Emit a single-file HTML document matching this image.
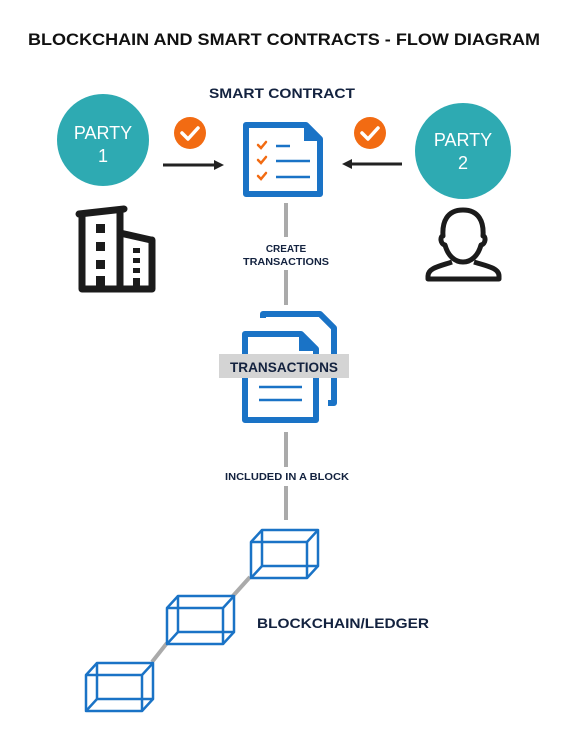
<!DOCTYPE html>
<html><head><meta charset="utf-8"><style>
html,body{margin:0;padding:0;background:#fff;}
svg{display:block;font-family:"Liberation Sans",Arial,sans-serif;}
</style></head><body>
<svg width="576" height="738" viewBox="0 0 576 738" xmlns="http://www.w3.org/2000/svg">
<text x="28" y="45" font-size="17" font-weight="bold" fill="#111" textLength="512" lengthAdjust="spacingAndGlyphs">BLOCKCHAIN AND SMART CONTRACTS - FLOW DIAGRAM</text>
<text x="282" y="98" font-size="14" font-weight="bold" fill="#13223f" text-anchor="middle" textLength="146" lengthAdjust="spacingAndGlyphs">SMART CONTRACT</text>

<!-- party circles -->
<circle cx="103" cy="140" r="46" fill="#2eaab2"/>
<text x="103" y="139" font-size="18" fill="#fff" text-anchor="middle">PARTY</text>
<text x="103" y="162" font-size="18" fill="#fff" text-anchor="middle">1</text>
<circle cx="463" cy="151" r="48" fill="#2eaab2"/>
<text x="463" y="146" font-size="18" fill="#fff" text-anchor="middle">PARTY</text>
<text x="463" y="169" font-size="18" fill="#fff" text-anchor="middle">2</text>

<!-- check badges -->
<circle cx="190" cy="133" r="16" fill="#f26b12"/>
<path d="M182 133 l6 6 l10 -11" stroke="#fff" stroke-width="3.5" fill="none" stroke-linecap="round" stroke-linejoin="round"/>
<circle cx="370" cy="133" r="16" fill="#f26b12"/>
<path d="M362 133 l6 6 l10 -11" stroke="#fff" stroke-width="3.5" fill="none" stroke-linecap="round" stroke-linejoin="round"/>

<!-- arrows -->
<line x1="163" y1="165" x2="216" y2="165" stroke="#222" stroke-width="3"/>
<polygon points="224,165 214,160 214,170" fill="#222"/>
<line x1="402" y1="164" x2="350" y2="164" stroke="#222" stroke-width="3"/>
<polygon points="342,164 352,159 352,169" fill="#222"/>

<!-- contract doc -->
<path d="M246 125 H306 L320 139 V194 H246 Z" fill="#fff" stroke="#1a73c6" stroke-width="6" stroke-linejoin="round"/>
<path d="M304 123 L322 141 H304 Z" fill="#1a73c6"/>
<g stroke="#f26b12" stroke-width="2.5" fill="none" stroke-linecap="round">
<path d="M258 145 l3 3 l5 -6"/><path d="M258 160 l3 3 l5 -6"/><path d="M258 176 l3 3 l5 -6"/>
</g>
<g stroke="#1a73c6" stroke-width="2.5">
<line x1="276" y1="146" x2="290" y2="146"/><line x1="276" y1="161" x2="310" y2="161"/><line x1="276" y1="177" x2="310" y2="177"/>
</g>

<!-- building -->
<g fill="none" stroke="#1b1b1b" stroke-width="7" stroke-linejoin="round" stroke-linecap="round">
<path d="M79 214 L124 209"/>
<path d="M82 214 V289 H152 V240"/>
<path d="M120 211 V289"/>
<path d="M120 233 L151 240"/>
</g>
<g fill="#1b1b1b">
<rect x="96" y="224" width="9" height="9"/><rect x="96" y="242" width="9" height="9"/><rect x="96" y="260" width="9" height="9"/><rect x="96" y="276" width="9" height="13"/>
<rect x="133" y="248" width="7" height="5"/><rect x="133" y="258" width="7" height="5"/><rect x="133" y="268" width="7" height="5"/><rect x="133" y="278" width="7" height="11"/>
</g>

<!-- person -->
<g fill="none" stroke="#1b1b1b" stroke-width="5" stroke-linejoin="round">
<path d="M463 210 C447 210 442 222 443 236 C440 236 440 244 445 245 C448 256 455 262 463 262 C471 262 478 256 481 245 C486 244 486 236 483 236 C484 222 479 210 463 210 Z"/>
<path d="M452 262 C440 266 428 268 428 276 V279 H499 V276 C499 268 487 266 474 262"/>
</g>

<!-- connectors -->
<g stroke="#aaa" stroke-width="4">
<line x1="286" y1="203" x2="286" y2="237"/>
<line x1="286" y1="270" x2="286" y2="305"/>
<line x1="286" y1="432" x2="286" y2="467"/>
<line x1="286" y1="486" x2="286" y2="520"/>
<line x1="250" y1="577" x2="232" y2="597"/>
<line x1="167" y1="643" x2="152" y2="662"/>
</g>
<text x="286" y="252" font-size="10" font-weight="bold" fill="#13223f" text-anchor="middle">CREATE</text>
<text x="286" y="265" font-size="10" font-weight="bold" fill="#13223f" text-anchor="middle" textLength="86" lengthAdjust="spacingAndGlyphs">TRANSACTIONS</text>
<text x="287" y="480" font-size="10" font-weight="bold" fill="#13223f" text-anchor="middle" textLength="124" lengthAdjust="spacingAndGlyphs">INCLUDED IN A BLOCK</text>

<!-- transactions docs -->
<path d="M263 318 V314 H320 L334 328 V403 H328" fill="none" stroke="#1a73c6" stroke-width="6" stroke-linejoin="round"/>
<path d="M245 334 H301 L316 349 V420 H245 Z" fill="#fff" stroke="#1a73c6" stroke-width="6" stroke-linejoin="round"/>
<path d="M299 332 L318 351 H299 Z" fill="#1a73c6"/>
<line x1="259" y1="387" x2="302" y2="387" stroke="#1a73c6" stroke-width="2.5"/>
<line x1="259" y1="400" x2="302" y2="400" stroke="#1a73c6" stroke-width="2.5"/>
<rect x="219" y="354" width="130" height="24" fill="#d4d4d4"/>
<text x="284" y="372" font-size="14" font-weight="bold" fill="#13223f" text-anchor="middle" textLength="108" lengthAdjust="spacingAndGlyphs">TRANSACTIONS</text>

<!-- cubes -->
<g fill="none" stroke="#1a73c6" stroke-width="2.5" stroke-linejoin="round">
<g transform="translate(251,542)">
<rect x="0" y="0" width="56" height="36"/><rect x="11" y="-12" width="56" height="36"/>
<line x1="0" y1="0" x2="11" y2="-12"/><line x1="56" y1="0" x2="67" y2="-12"/><line x1="0" y1="36" x2="11" y2="24"/><line x1="56" y1="36" x2="67" y2="24"/>
</g>
<g transform="translate(167,608)">
<rect x="0" y="0" width="56" height="36"/><rect x="11" y="-12" width="56" height="36"/>
<line x1="0" y1="0" x2="11" y2="-12"/><line x1="56" y1="0" x2="67" y2="-12"/><line x1="0" y1="36" x2="11" y2="24"/><line x1="56" y1="36" x2="67" y2="24"/>
</g>
<g transform="translate(86,675)">
<rect x="0" y="0" width="56" height="36"/><rect x="11" y="-12" width="56" height="36"/>
<line x1="0" y1="0" x2="11" y2="-12"/><line x1="56" y1="0" x2="67" y2="-12"/><line x1="0" y1="36" x2="11" y2="24"/><line x1="56" y1="36" x2="67" y2="24"/>
</g>
</g>
<text x="257" y="628" font-size="14" font-weight="bold" fill="#13223f" textLength="172" lengthAdjust="spacingAndGlyphs">BLOCKCHAIN/LEDGER</text>
</svg>
</body></html>
